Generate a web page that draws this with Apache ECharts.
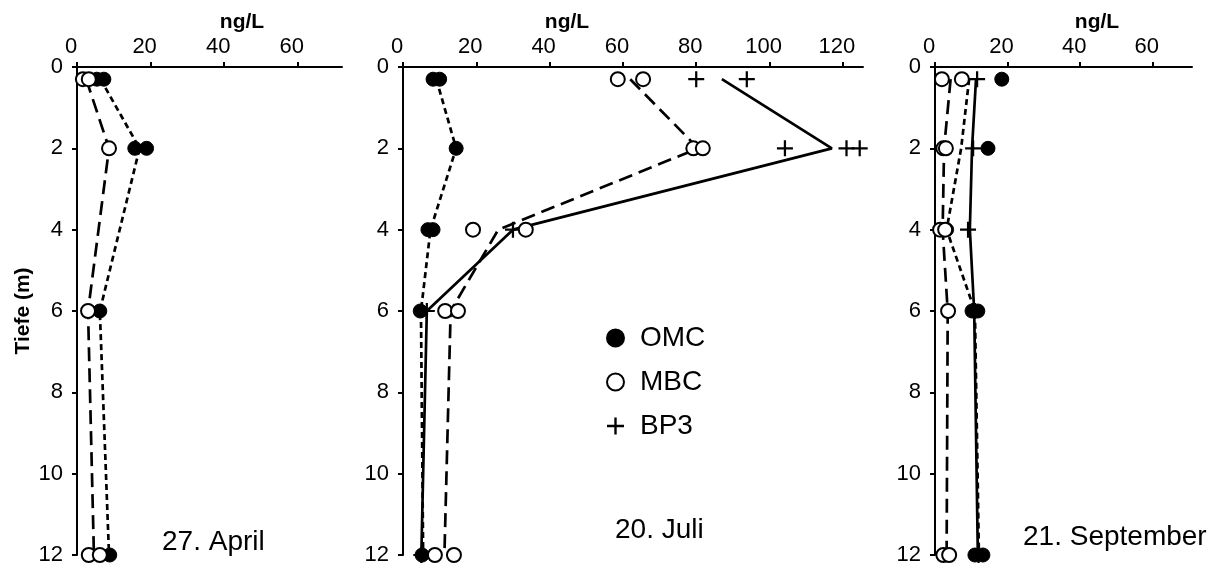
<!DOCTYPE html>
<html>
<head>
<meta charset="utf-8">
<script src="https://cdn.jsdelivr.net/npm/echarts@6/dist/echarts.min.js"></script>
<style>
html,body{margin:0;padding:0;background:#fff;}
#chart{width:1227px;height:570px;}
</style>
</head>
<body>
<div id="chart"></div>
<script>
var fontFamily='"Liberation Sans",Arial,Helvetica,sans-serif';

// achsen
var depthTicks=[0,2,4,6,8,10,12];
var xTicksSmall=[0,20,40,60];
var xTicksJuli=[0,20,40,60,80,100,120];
var lineDepths=[0.3,2,4,6,12];
var aprilLineDepths=[0.3,2,6,12];

// 27. April  [ng/L, Tiefe]
var aprilOmcPts=[[5.4,0.3],[7.3,0.3],[15.7,2],[18.9,2],[6.2,6],[8.9,12]];
var aprilMbcPts=[[1.6,0.3],[3.2,0.3],[8.7,2],[3.0,6],[3.2,12],[6.2,12]];
var aprilOmcLine=[6.4,17.0,6.2,8.7];
var aprilMbcLine=[2.5,8.7,3.0,4.6];

// 20. Juli
var juliOmcPts=[[8.2,0.3],[10.0,0.3],[14.5,2],[6.8,4],[8.2,4],[4.7,6],[5.2,12]];
var juliMbcPts=[[58.6,0.3],[65.5,0.3],[79.2,2],[81.8,2],[19.1,4],[33.5,4],[11.5,6],[15.0,6],[8.7,12],[13.9,12]];
var juliBp3Pts=[[80.0,0.3],[93.8,0.3],[104.2,2],[121.0,2],[124.6,2],[30.0,4],[6.5,6],[5.0,12]];
var juliOmcLine=[9.1,14.5,7.5,4.9,5.5];
var juliMbcLine=[62.0,80.5,26.0,13.0,11.3];
var juliBp3Line=[87.0,117.0,30.0,6.5,5.0];

// 21. September
var sepOmcPts=[[18.4,0.3],[14.6,2],[3.2,4],[10.2,6],[11.8,6],[11.0,12],[13.2,12]];
var sepMbcPts=[[1.9,0.3],[7.4,0.3],[2.3,2],[3.0,2],[1.4,4],[2.8,4],[3.6,6],[2.3,12],[3.9,12]];
var sepBp3Pts=[[11.6,0.3],[10.5,2],[9.1,4],[11.0,6],[12.0,12]];
var sepOmcLine=[9.4,7.2,3.2,11.0,12.1];
var sepMbcLine=[4.3,2.5,2.1,3.5,3.2];
var sepBp3Line=[11.3,10.2,9.6,10.8,11.8];

var plusPath='path://M-1.4,-10L1.4,-10L1.4,10L-1.4,10Z M-10,-1.4L10,-1.4L10,1.4L-10,1.4Z';

function zip(vals,depths){
    return vals.map(function(v,i){return [v,depths[i]];});
}

var grids=[
    {left:77,top:67,width:265,height:488},
    {left:403,top:67,width:460,height:488},
    {left:935,top:67,width:257,height:488}
];
var xMax=[72,125.5,70.8];
var xTicks=[xTicksSmall,xTicksJuli,xTicksSmall];

var xAxes=grids.map(function(g,i){
    return {
        type:'value',gridIndex:i,position:'top',min:0,max:xMax[i],
        axisLine:{show:true,onZero:false,lineStyle:{color:'#000',width:2}},
        axisTick:{show:true,length:5,customValues:xTicks[i],lineStyle:{color:'#000',width:2}},
        axisLabel:{customValues:xTicks[i],margin:9,color:'#000',fontSize:22,fontFamily:fontFamily,padding:[0,12,0,0]},
        splitLine:{show:false}
    };
});
var yAxes=grids.map(function(g,i){
    return {
        type:'value',gridIndex:i,inverse:true,min:0,max:12,interval:2,
        name:i===0?'Tiefe (m)':'',nameLocation:'middle',nameGap:43,nameRotate:90,
        nameTextStyle:{color:'#000',fontSize:21,fontWeight:'bold',fontFamily:fontFamily},
        axisLine:{show:true,onZero:false,lineStyle:{color:'#000',width:2}},
        axisTick:{show:true,length:5,lineStyle:{color:'#000',width:2}},
        axisLabel:{margin:14,color:'#000',fontSize:22,fontFamily:fontFamily},
        splitLine:{show:false}
    };
});

function lineSeries(name,vals,depths,idx,dash){
    return {
        name:name,type:'line',xAxisIndex:idx,yAxisIndex:idx,
        data:zip(vals,depths),symbol:'none',z:2,silent:true,
        lineStyle:{color:'#000',width:2.7,type:dash}
    };
}
var omcStyle={symbol:'circle',symbolSize:14,itemStyle:{color:'#000',borderColor:'#000',borderWidth:1,opacity:1}};
var mbcStyle={symbol:'circle',symbolSize:14,itemStyle:{color:'#fff',borderColor:'#000',borderWidth:2,opacity:1}};
var bp3Style={symbol:plusPath,symbolSize:16,itemStyle:{color:'#000',borderWidth:0,opacity:1}};
function pointSeries(name,pts,idx,st){
    return {
        name:name,type:'scatter',xAxisIndex:idx,yAxisIndex:idx,data:pts,z:5,
        symbol:st.symbol,symbolSize:st.symbolSize,itemStyle:st.itemStyle
    };
}

var shortDash=[6,4];
var longDash=[14,7];

var series=[
    pointSeries('OMC',aprilOmcPts,0,omcStyle),
    pointSeries('MBC',aprilMbcPts,0,mbcStyle),
    pointSeries('BP3',juliBp3Pts,1,bp3Style),
    pointSeries('OMC',juliOmcPts,1,omcStyle),
    pointSeries('MBC',juliMbcPts,1,mbcStyle),
    pointSeries('OMC',sepOmcPts,2,omcStyle),
    pointSeries('MBC',sepMbcPts,2,mbcStyle),
    pointSeries('BP3',sepBp3Pts,2,bp3Style),
    lineSeries('OMC Mittel',aprilOmcLine,aprilLineDepths,0,shortDash),
    lineSeries('MBC Mittel',aprilMbcLine,aprilLineDepths,0,longDash),
    lineSeries('OMC Mittel',juliOmcLine,lineDepths,1,shortDash),
    lineSeries('MBC Mittel',juliMbcLine,lineDepths,1,longDash),
    lineSeries('BP3 Mittel',juliBp3Line,lineDepths,1,'solid'),
    lineSeries('OMC Mittel',sepOmcLine,lineDepths,2,shortDash),
    lineSeries('MBC Mittel',sepMbcLine,lineDepths,2,longDash),
    lineSeries('BP3 Mittel',sepBp3Line,lineDepths,2,'solid')
];

function label(txt,x,y,big,align){
    return {
        type:'text',x:x,y:y,
        style:{text:txt,fill:'#000',fontFamily:fontFamily,
            fontSize:big?28:21,fontWeight:big?'normal':'bold',
            align:align||'center',verticalAlign:'middle'}
    };
}

var chart=echarts.init(document.getElementById('chart'),null,{renderer:'canvas'});
chart.setOption({
    animation:false,
    backgroundColor:'#fff',
    grid:grids,
    xAxis:xAxes,
    yAxis:yAxes,
    legend:{
        data:['OMC','MBC','BP3'],orient:'vertical',left:601,top:319,
        itemWidth:17,itemHeight:17,itemGap:16,
        textStyle:{color:'#000',fontSize:28,fontFamily:fontFamily,padding:[0,0,0,11]}
    },
    graphic:[
        label('ng/L',242,22,false),
        label('ng/L',567,22,false),
        label('ng/L',1097,22,false),
        label('27. April',162,542,true,'left'),
        label('20. Juli',615,530,true,'left'),
        label('21. September',1023,537,true,'left')
    ],
    series:series
});
</script>
</body>
</html>
